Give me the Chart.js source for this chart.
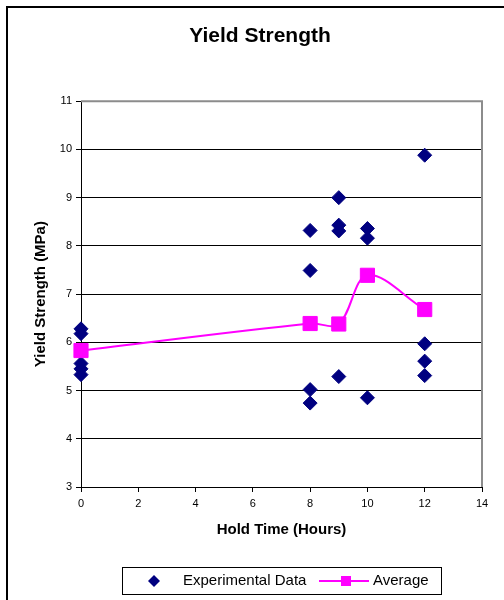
<!DOCTYPE html>
<html>
<head>
<meta charset="utf-8">
<title>Yield Strength</title>
<script src="https://cdn.jsdelivr.net/npm/chart.js@4.4.1/dist/chart.umd.min.js"></script>
<style>
  html, body { margin: 0; padding: 0; background: #fff; }
  #wrap { position: relative; width: 504px; height: 600px; overflow: hidden; }
  #frame { position: absolute; left: 6px; top: 6px; width: 700px; height: 800px;
           border-left: 2px solid #000; border-top: 2px solid #000; }
  #chart { position: absolute; left: 0; top: 0; }
</style>
</head>
<body>
<div id="wrap">
  <div id="frame"></div>
  <canvas id="chart" width="504" height="600"></canvas>
</div>
<script>
// hold times (hours) and measured yield strength (MPa)
const expHours = [0, 0, 0, 0, 0, 8, 8, 8, 8, 9, 9, 9, 9, 10, 10, 10, 12, 12, 12, 12];
const expYield = [6.28, 6.18, 5.56, 5.45, 5.33, 8.32, 7.49, 5.02, 4.74, 9.0, 8.43, 8.31, 5.29, 8.36, 8.16, 4.85, 9.88, 5.97, 5.61, 5.31];

const avgHours = [0, 8, 9, 10, 12];
const avgYield = [5.83, 6.39, 6.38, 7.39, 6.68];

const xTicks = [0, 2, 4, 6, 8, 10, 12, 14];
const yTicks = [3, 4, 5, 6, 7, 8, 9, 10, 11];

const FONT = "Arial, 'Liberation Sans', sans-serif";
const NAVY = '#000080';
const MAGENTA = '#FF00FF';

Chart.defaults.font.family = FONT;
Chart.defaults.color = '#000';

function toPoints(xs, ys) {
  return xs.map((x, i) => ({ x: x, y: ys[i] }));
}

// grey plot-area border on top and right, like the spreadsheet original
const plotBorder = {
  id: 'plotBorder',
  afterDatasetsDraw(chart) {
    const a = chart.chartArea;
    const ctx = chart.ctx;
    ctx.save();
    ctx.strokeStyle = '#8c8c8c';
    ctx.lineWidth = 2;
    ctx.beginPath();
    ctx.moveTo(a.left, a.top);
    ctx.lineTo(a.right, a.top);
    ctx.lineTo(a.right, a.bottom);
    ctx.stroke();
    ctx.restore();
  }
};

// boxed legend under the x axis title
const boxLegend = {
  id: 'boxLegend',
  afterDraw(chart) {
    const ctx = chart.ctx;
    const ds = chart.data.datasets;
    const y = 581;
    ctx.save();
    ctx.strokeStyle = '#000';
    ctx.lineWidth = 1;
    ctx.strokeRect(122.5, 567.5, 319, 27);

    // diamond
    ctx.fillStyle = NAVY;
    ctx.beginPath();
    ctx.moveTo(154 - 6, y);
    ctx.lineTo(154, y - 6);
    ctx.lineTo(154 + 6, y);
    ctx.lineTo(154, y + 6);
    ctx.closePath();
    ctx.fill();

    ctx.font = '15px ' + FONT;
    ctx.textBaseline = 'middle';
    ctx.fillStyle = '#000';
    ctx.fillText(ds[0].label, 183, y);

    // line with square
    ctx.strokeStyle = MAGENTA;
    ctx.lineWidth = 2;
    ctx.beginPath();
    ctx.moveTo(319, y);
    ctx.lineTo(369, y);
    ctx.stroke();
    ctx.fillStyle = MAGENTA;
    ctx.fillRect(341, y - 5, 10, 10);

    ctx.fillStyle = '#000';
    ctx.fillText(ds[1].label, 373, y);
    ctx.restore();
  }
};

new Chart(document.getElementById('chart'), {
  type: 'scatter',
  data: {
    datasets: [
      {
        label: 'Experimental Data',
        data: toPoints(expHours, expYield),
        pointStyle: 'rectRot',
        pointRadius: 7,
        pointHoverRadius: 7,
        backgroundColor: NAVY,
        borderColor: NAVY,
        borderWidth: 1,
        showLine: false,
        clip: false,
        order: 2
      },
      {
        label: 'Average',
        data: toPoints(avgHours, avgYield),
        pointStyle: 'rect',
        pointRadius: 10,
        pointHoverRadius: 10,
        pointBackgroundColor: MAGENTA,
        pointBorderColor: MAGENTA,
        pointBorderWidth: 1,
        borderColor: MAGENTA,
        borderWidth: 2,
        showLine: true,
        tension: 0.35,
        clip: false,
        order: 1
      }
    ]
  },
  options: {
    responsive: false,
    animation: false,
    events: [],
    layout: { padding: { top: 14, left: 28, right: 12, bottom: 60 } },
    plugins: {
      legend: { display: false },
      tooltip: { enabled: false },
      title: {
        display: true,
        text: 'Yield Strength',
        color: '#000',
        font: { size: 21, weight: 'bold' },
        padding: { top: 10, bottom: 52 }
      }
    },
    scales: {
      x: {
        type: 'linear',
        min: 0,
        max: 14,
        afterBuildTicks(scale) { scale.ticks = xTicks.map(v => ({ value: v })); },
        afterFit(scale) { scale.height = 53; },
        ticks: { font: { size: 11 }, padding: 5, maxRotation: 0 },
        grid: { drawOnChartArea: false, drawTicks: true, tickLength: 5, color: '#000' },
        border: { color: '#000', width: 1 },
        title: {
          display: true,
          text: 'Hold Time (Hours)',
          font: { size: 15, weight: 'bold' },
          padding: { top: 0, bottom: 1 }
        }
      },
      y: {
        type: 'linear',
        min: 3,
        max: 11,
        afterBuildTicks(scale) { scale.ticks = yTicks.map(v => ({ value: v })); },
        afterFit(scale) { scale.width = 53; },
        ticks: { font: { size: 11 }, padding: 4 },
        grid: { drawOnChartArea: true, drawTicks: true, tickLength: 5, color: '#000', lineWidth: 1 },
        border: { color: '#000', width: 1 },
        title: {
          display: true,
          text: 'Yield Strength (MPa)',
          font: { size: 15, weight: 'bold' },
          padding: { top: 4, bottom: 0 }
        }
      },
      // empty spacer on the right so the plot ends where the original does
      spacer: {
        type: 'linear',
        position: 'right',
        display: true,
        afterFit(scale) { scale.width = 10; },
        ticks: { display: false },
        grid: { display: false },
        border: { display: false }
      }
    }
  },
  plugins: [plotBorder, boxLegend]
});
</script>
</body>
</html>
